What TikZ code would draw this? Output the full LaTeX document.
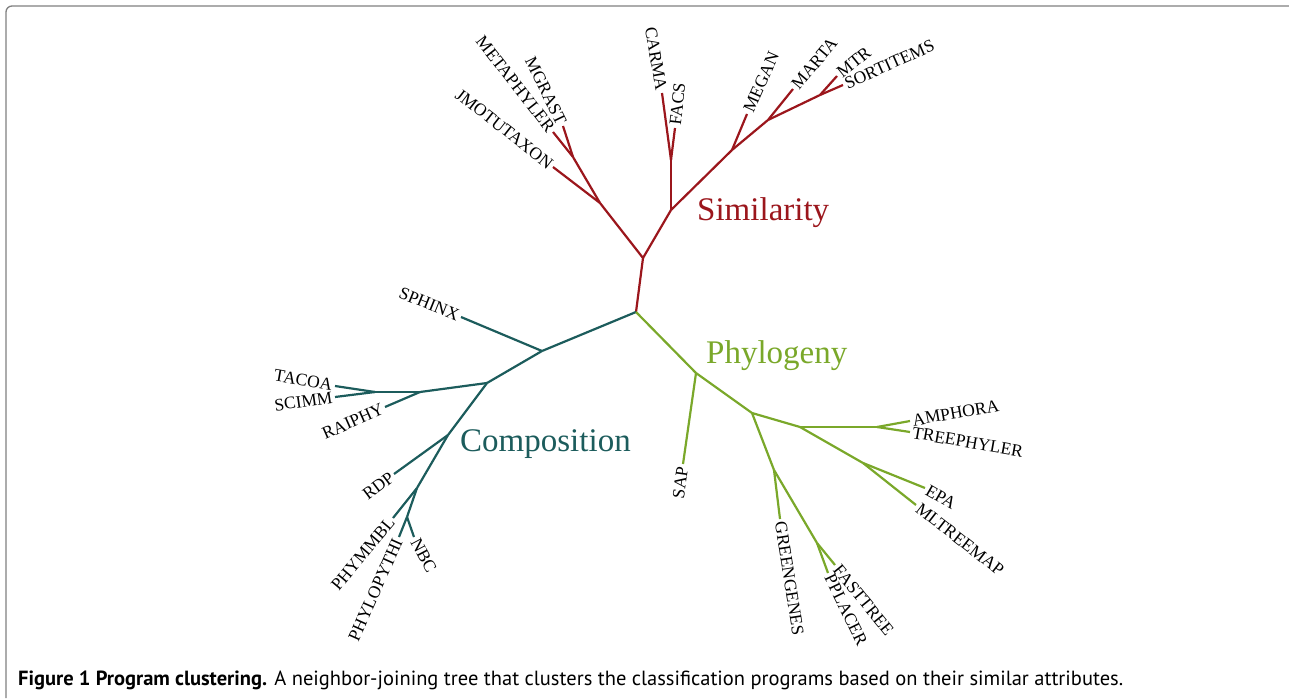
\documentclass[tikz,border=0pt]{standalone}
\usepackage{fontspec}
\setmainfont{Liberation Serif}
\newfontfamily\captionfont{PT Sans}
\definecolor{simred}{RGB}{155,22,28}
\definecolor{comteal}{RGB}{28,92,92}
\definecolor{phygreen}{RGB}{122,168,42}
\tikzset{
  branch/.style={line width=2.2pt, line join=round},
  leaf/.style={font=\fontsize{17.5}{17.5}\selectfont, inner sep=2.5pt},
  group/.style={font=\fontsize{33}{33}\selectfont, inner sep=0pt, anchor=base west}
}
\begin{document}
\begin{tikzpicture}[x=1pt, y=-1pt]
  \useasboundingbox (0,0) rectangle (1289,698);

  % 1. Frame round the figure
  \draw[gray, line width=1.3pt, rounded corners=6pt] (6,698) -- (6,6) -- (1292,6);

  % 2. Branch points and leaves (pixel positions)
  \coordinate (root) at (636,312);
  % Similarity
  \coordinate (s0) at (643,258);
  \coordinate (s1) at (600,203);
  \coordinate (s2) at (573,157);
  \coordinate (s3) at (671,210);
  \coordinate (s4) at (671,160);
  \coordinate (s5) at (732,150);
  \coordinate (s6) at (768,120);
  \coordinate (s7) at (820,95);
  \coordinate (jmotutaxon) at (553,167);
  \coordinate (metaphyler) at (553,132);
  \coordinate (mgrast) at (563,126);
  \coordinate (carma) at (662,93);
  \coordinate (facs) at (675,128);
  \coordinate (megan) at (747,114);
  \coordinate (marta) at (793,89);
  \coordinate (mtr) at (837,76);
  \coordinate (sortitems) at (843,85);
  % Composition
  \coordinate (c0) at (542,351);
  \coordinate (c1) at (487,383);
  \coordinate (c2) at (420,392);
  \coordinate (c3) at (375,392);
  \coordinate (c4) at (448,435);
  \coordinate (c5) at (417,488);
  \coordinate (c6) at (407,517);
  \coordinate (sphinx) at (461,317);
  \coordinate (tacoa) at (335,386);
  \coordinate (scimm) at (335,397);
  \coordinate (raiphy) at (385,407);
  \coordinate (rdp) at (394,474);
  \coordinate (phymmbl) at (393,518);
  \coordinate (phylopythi) at (399,537);
  \coordinate (nbc) at (414,537);
  % Phylogeny
  \coordinate (p0) at (696,373);
  \coordinate (p1) at (752,413);
  \coordinate (p2) at (800,427);
  \coordinate (p3) at (877,427);
  \coordinate (p4) at (863,463);
  \coordinate (p5) at (774,470);
  \coordinate (p6) at (817,543);
  \coordinate (sap) at (683,464);
  \coordinate (amphora) at (910,421);
  \coordinate (treephyler) at (910,432);
  \coordinate (epa) at (925,488);
  \coordinate (mltreemap) at (916,505);
  \coordinate (greengenes) at (780,519);
  \coordinate (fasttree) at (835,565);
  \coordinate (pplacer) at (828,573);

  % 3. Branches of the three clusters
  \foreach \a/\b in {root/s0, s0/s1, s1/jmotutaxon, s1/s2, s2/metaphyler, s2/mgrast,
      s0/s3, s3/s4, s4/carma, s4/facs, s3/s5, s5/megan, s5/s6, s6/marta, s6/s7,
      s7/mtr, s7/sortitems} {
    \draw[branch, simred] (\a) -- (\b);
  }
  \foreach \a/\b in {root/c0, c0/sphinx, c0/c1, c1/c2, c2/raiphy, c2/c3, c3/tacoa,
      c3/scimm, c1/c4, c4/rdp, c4/c5, c5/phymmbl, c5/c6, c6/phylopythi, c6/nbc} {
    \draw[branch, comteal] (\a) -- (\b);
  }
  \foreach \a/\b in {root/p0, p0/sap, p0/p1, p1/p2, p2/p3, p3/amphora, p3/treephyler,
      p2/p4, p4/epa, p4/mltreemap, p1/p5, p5/greengenes, p5/p6, p6/fasttree, p6/pplacer} {
    \draw[branch, phygreen] (\a) -- (\b);
  }

  % 4. Leaf labels, text ending at the leaf
  \foreach \c/\r/\t in {jmotutaxon/-38/JMOTUTAXON, metaphyler/-52/METAPHYLER,
      mgrast/-64/MGRAST, carma/-80/CARMA, sphinx/-22/SPHINX, tacoa/-10/TACOA,
      scimm/8/SCIMM, raiphy/24/RAIPHY, rdp/37/RDP, phymmbl/50/PHYMMBL,
      phylopythi/66/PHYLOPYTHI, sap/82/SAP} {
    \node[leaf, anchor=east, rotate=\r] (\c-lab) at (\c) {\t};
  }
  % text starting at the leaf
  \foreach \c/\r/\t in {facs/84/FACS, megan/66/MEGAN, marta/50/MARTA, mtr/39/MTR,
      sortitems/24/SORTITEMS, nbc/-62/NBC, amphora/10/AMPHORA,
      treephyler/-10/TREEPHYLER, epa/-30/EPA, mltreemap/-38/MLTREEMAP,
      greengenes/-81/GREENGENES, fasttree/-51/FASTTREE, pplacer/-64/PPLACER} {
    \node[leaf, anchor=west, rotate=\r] (\c-lab) at (\c) {\t};
  }

  % 5. Cluster names
  \node[group, text=simred] (similarity) at (697,220) {Similarity};
  \node[group, text=phygreen] (phylogeny) at (706,363) {Phylogeny};
  \node[group, text=comteal] (composition) at (460,451) {Composition};

  % 6. Caption
  \node[anchor=base west, inner sep=0pt, font=\captionfont\fontsize{20.5}{21}\selectfont]
    (caption) at (18,685) {\textbf{Figure 1 Program clustering.} A neighbor-joining tree
    that clusters the classification programs based on their similar attributes.};
\end{tikzpicture}
\end{document}
